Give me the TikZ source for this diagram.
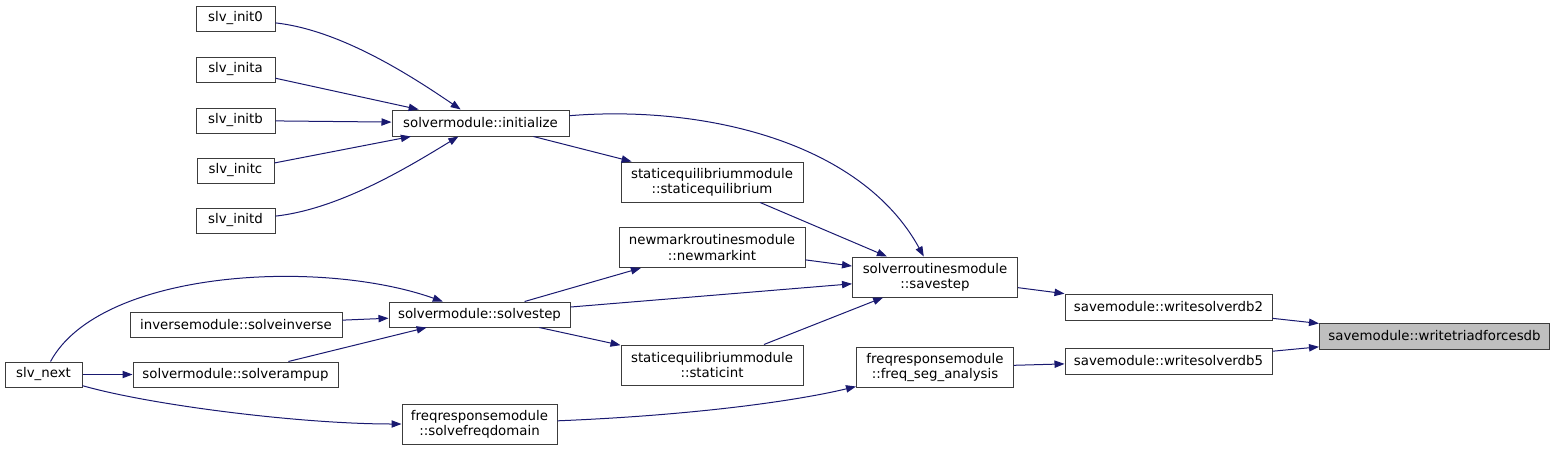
\documentclass[tikz,border=0pt]{standalone}
\usepackage{fontspec}
\setmainfont{DejaVu Sans}
\usetikzlibrary{arrows.meta}
\definecolor{edgeblue}{RGB}{25,25,112}
\definecolor{focusgrey}{RGB}{191,191,191}
\definecolor{boxline}{RGB}{60,60,60}

\begin{document}
\begin{tikzpicture}[x=0.75pt, y=-0.75pt,
        fn/.style={draw=boxline, fill=white, line width=0.75pt, inner sep=1pt, align=center,
            minimum height=18.75pt, font=\fontsize{10}{11.5}\selectfont},
        fntwo/.style={fn, minimum height=30pt},
        call/.style={draw=edgeblue, line width=0.75pt, -{Triangle[length=7.5pt, width=5.5pt]}, edgeblue}]
        \useasboundingbox (0,0) rectangle (1555,450);

        \node[fn, minimum width=59.25pt]  (init0) at (235.5, 18.5)  {slv\_init0};
        \node[fn, minimum width=59.25pt]  (inita) at (235.5, 69.5)  {slv\_inita};
        \node[fn, minimum width=59.25pt]  (initb) at (235.5, 120.5) {slv\_initb};
        \node[fn, minimum width=57.75pt]  (initc) at (235.5, 170.5) {slv\_initc};
        \node[fn, minimum width=59.25pt]  (initd) at (235.5, 220.5) {slv\_initd};
        \node[fn, minimum width=132.75pt, minimum height=19.5pt] (init) at (480.5, 123) {solvermodule::initialize};
        \node[fntwo, minimum width=136.5pt] (steq) at (712, 182)   {staticequilibriummodule\\::staticequilibrium};
        \node[fntwo, minimum width=139.5pt] (newm) at (712, 247.5) {newmarkroutinesmodule\\::newmarkint};
        \node[fntwo, minimum width=123.75pt] (save) at (935, 277)  {solverroutinesmodule\\::savestep};
        \node[fn, minimum width=135.75pt] (sstep) at (479.5, 314.5) {solvermodule::solvestep};
        \node[fn, minimum width=159pt]    (inv)   at (236, 324.5)   {inversemodule::solveinverse};
        \node[fn, minimum width=57.75pt]  (next)  at (43.5, 374.5)  {slv\_next};
        \node[fn, minimum width=153.75pt] (ramp)  at (235.5, 374.5) {solvermodule::solverampup};
        \node[fntwo, minimum width=136.5pt] (sint) at (712, 365)   {staticequilibriummodule\\::staticint};
        \node[fntwo, minimum width=117.75pt] (fseg) at (935, 367.5) {freqresponsemodule\\::freq\_seg\_analysis};
        \node[fntwo, minimum width=116.25pt] (sfd) at (479.5, 424) {freqresponsemodule\\::solvefreqdomain};
        \node[fn, minimum width=155.25pt, minimum height=19.5pt] (db2) at (1168.5, 307) {savemodule::writesolverdb2};
        \node[fn, minimum width=155.25pt, minimum height=19.5pt] (db5) at (1168.5, 361) {savemodule::writesolverdb5};
        \node[fn, fill=focusgrey, minimum width=172.5pt, minimum height=19.5pt] (triad) at (1434.5, 336) {savemodule::writetriadforcesdb};

        \draw[call] (init0) .. controls (340,30) and (410,75) .. (init);
        \draw[call] (inita) -- (init);
        \draw[call] (initb) -- (init);
        \draw[call] (initc) -- (init);
        \draw[call] (initd) .. controls (340,209) and (410,166) .. (init);
        \draw[call] (init) -- (steq);
        \draw[call] (init) .. controls (700,105) and (860,140) .. (save);
        \draw[call] (steq) -- (save);
        \draw[call] (newm) -- (save);
        \draw[call] (sstep) -- (newm);
        \draw[call] (sstep) -- (save);
        \draw[call] (sstep) -- (sint);
        \draw[call] (sint) -- (save);
        \draw[call] (save) -- (db2);
        \draw[call] (db2) -- (triad);
        \draw[call] (db5) -- (triad);
        \draw[call] (fseg) -- (db5);
        \draw[call] (sfd) .. controls (700,415) and (800,400) .. (fseg);
        \draw[call] (next) .. controls (100,270) and (320,258) .. (sstep);
        \draw[call] (inv) -- (sstep);
        \draw[call] (ramp) -- (sstep);
        \draw[call] (next) -- (ramp);
        \draw[call] (next) .. controls (150,405) and (300,424) .. (sfd);
\end{tikzpicture}
\end{document}
